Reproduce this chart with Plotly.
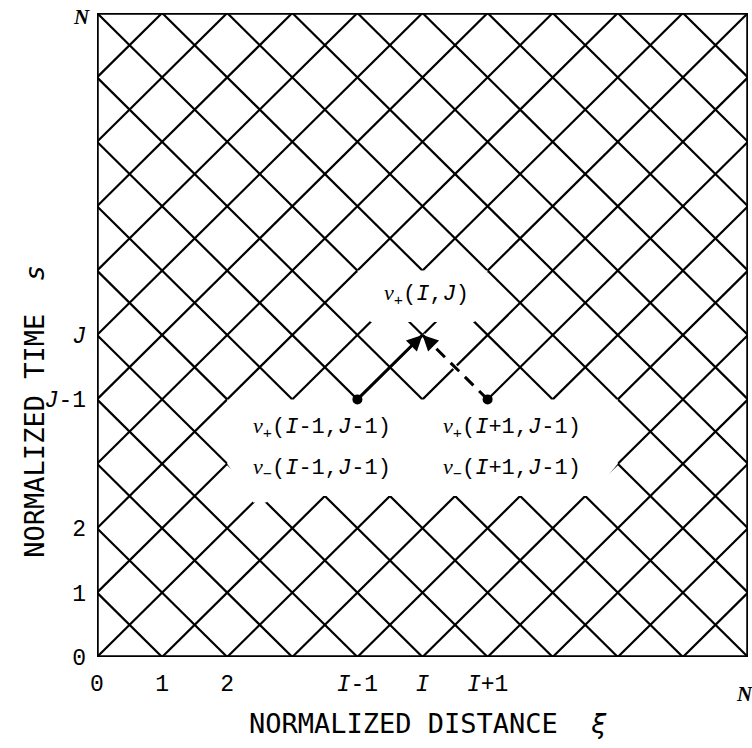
import plotly.graph_objects as go

# Characteristic grid on the normalized (distance, time) square
N = 10          # number of grid steps along each axis
I, J = 5, 5     # node being computed

x_tick_vals = [0, 1, 2, I - 1, I, I + 1]
x_tick_text = ["0", "1", "2", "<i>I</i>-1", "<i>I</i>", "<i>I</i>+1"]
y_tick_vals = [0, 1, 2, J - 1, J]
y_tick_text = ["0", "1", "2", "<i>J</i>-1", "<i>J</i>"]

NU = '<span style="font-family:Liberation Serif"><i>ν</i></span>'
label_up = NU + "<sub>+</sub>(<i>I</i>,<i>J</i>)"
labels_left = [NU + "<sub>+</sub>(<i>I</i>-1,<i>J</i>-1)",
               NU + "<sub>−</sub>(<i>I</i>-1,<i>J</i>-1)"]
labels_right = [NU + "<sub>+</sub>(<i>I</i>+1,<i>J</i>-1)",
                NU + "<sub>−</sub>(<i>I</i>+1,<i>J</i>-1)"]

MONO = "Liberation Mono"
SANS_MONO = "DejaVu Sans Mono"

fig = go.Figure()

# --- characteristic lines: x - y = k and x + y = k -------------------------
gx, gy = [], []
for k in range(-N + 1, N):
    gx += [max(0, k), min(N, N + k), None]
    gy += [max(0, -k), min(N, N - k), None]
for k in range(1, 2 * N):
    gx += [max(0, k - N), min(N, k), None]
    gy += [min(N, k), max(0, k - N), None]
fig.add_trace(go.Scatter(x=gx, y=gy, mode="lines",
                         line=dict(color="black", width=2.2),
                         hoverinfo="skip", showlegend=False))

# --- clear space around the node labels ------------------------------------
clear_up = [(I - 1, J + 1), (I + 1, J + 1), (I + 0.8, J + 0.2), (I - 0.8, J + 0.2)]
clear_low = [(I - 3, J - 2), (I - 3, J - 1), (I + 3, J - 1), (I + 3, J - 2),
             (I + 2.6, J - 2.5), (I - 2.3, J - 2.5), (I - 2.4, J - 2.6),
             (I - 2.6, J - 2.6)]
for poly in (clear_up, clear_low):
    px = [p[0] for p in poly] + [poly[0][0]]
    py = [p[1] for p in poly] + [poly[0][1]]
    fig.add_trace(go.Scatter(x=px, y=py, mode="lines", fill="toself",
                             fillcolor="white", line=dict(width=0, color="white"),
                             hoverinfo="skip", showlegend=False))
# the dashed characteristic replaces the grid line beneath it
fig.add_trace(go.Scatter(x=[I + 1, I], y=[J - 1, J], mode="lines",
                         line=dict(color="white", width=5),
                         hoverinfo="skip", showlegend=False))

# --- dependence of node (I, J) on the two previous nodes -------------------
fig.add_trace(go.Scatter(x=[I - 1, I], y=[J - 1, J], mode="lines",
                         line=dict(color="black", width=3),
                         hoverinfo="skip", showlegend=False))
fig.add_trace(go.Scatter(x=[I + 1, I], y=[J - 1, J], mode="lines",
                         line=dict(color="black", width=3, dash="12px,8px"),
                         hoverinfo="skip", showlegend=False))
fig.add_trace(go.Scatter(x=[I - 1, I + 1], y=[J - 1, J - 1], mode="markers",
                         marker=dict(symbol="circle", size=10, color="black"),
                         hoverinfo="skip", showlegend=False))
for sx in (-1, 1):
    fig.add_annotation(x=I, y=J, ax=I + 0.14 * sx, ay=J - 0.14, xref="x", yref="y",
                       axref="x", ayref="y", text="", showarrow=True,
                       arrowhead=2, arrowsize=1.3, arrowwidth=2.4,
                       arrowcolor="black")

# --- frame ------------------------------------------------------------------
fig.add_shape(type="rect", xref="x", yref="y", x0=0, y0=0, x1=N, y1=N,
              line=dict(color="black", width=3.5), layer="above")

# --- node labels --------------------------------------------------------------
lab_font = dict(family=MONO, size=22, color="black")
fig.add_annotation(x=I - 0.62, y=J + 0.62, text=label_up, showarrow=False,
                   xanchor="left", yanchor="middle", font=lab_font)
for txt, yy in zip(labels_left, [J - 1.44, J - 2.08]):
    fig.add_annotation(x=I - 2.63, y=yy, text=txt, showarrow=False,
                       xanchor="left", yanchor="middle", font=lab_font)
for txt, yy in zip(labels_right, [J - 1.44, J - 2.08]):
    fig.add_annotation(x=I + 0.28, y=yy, text=txt, showarrow=False,
                       xanchor="left", yanchor="middle", font=lab_font)

# --- N marks at the ends of both axes ----------------------------------------
n_font = dict(family="Liberation Serif", size=21, color="black")
fig.add_annotation(x=N, y=0, xref="x", yref="paper", yshift=-37, xshift=-4,
                   xanchor="center", yanchor="middle",
                   text="<i><b>N</b></i>", showarrow=False, font=n_font)
fig.add_annotation(x=0, y=N, xref="paper", yref="y", xshift=-5, yshift=-4,
                   xanchor="right", yanchor="middle", text="<i><b>N</b></i>",
                   showarrow=False, font=n_font)

# --- axis titles ------------------------------------------------------------
title_font = dict(family=SANS_MONO, size=27, color="black")
fig.add_annotation(x=0.508, y=-0.104, xref="paper", yref="paper",
                   text="NORMALIZED DISTANCE\u00a0\u00a0<i>ξ</i>", showarrow=False,
                   font=title_font, xanchor="center", yanchor="middle")
fig.add_annotation(x=-0.0952, y=0.381, xref="paper", yref="paper",
                   text="NORMALIZED TIME\u00a0\u00a0<i>s</i>", showarrow=False,
                   textangle=-90, font=title_font, xanchor="center", yanchor="middle")

tick_font = dict(family=MONO, size=23, color="black")
fig.update_xaxes(range=[0, N], tickvals=x_tick_vals, ticktext=x_tick_text,
                 showgrid=False, zeroline=False, showline=False, ticks="",
                 tickfont=tick_font, ticklabelstandoff=10, fixedrange=True)
fig.update_yaxes(range=[0, N], tickvals=y_tick_vals, ticktext=y_tick_text,
                 showgrid=False, zeroline=False, showline=False, ticks="",
                 tickfont=tick_font, ticklabelstandoff=10, fixedrange=True)

fig.update_layout(width=752, height=748,
                  margin=dict(l=97, r=4, t=13, b=91),
                  paper_bgcolor="white", plot_bgcolor="white",
                  showlegend=False)

fig.write_html("out.html")
